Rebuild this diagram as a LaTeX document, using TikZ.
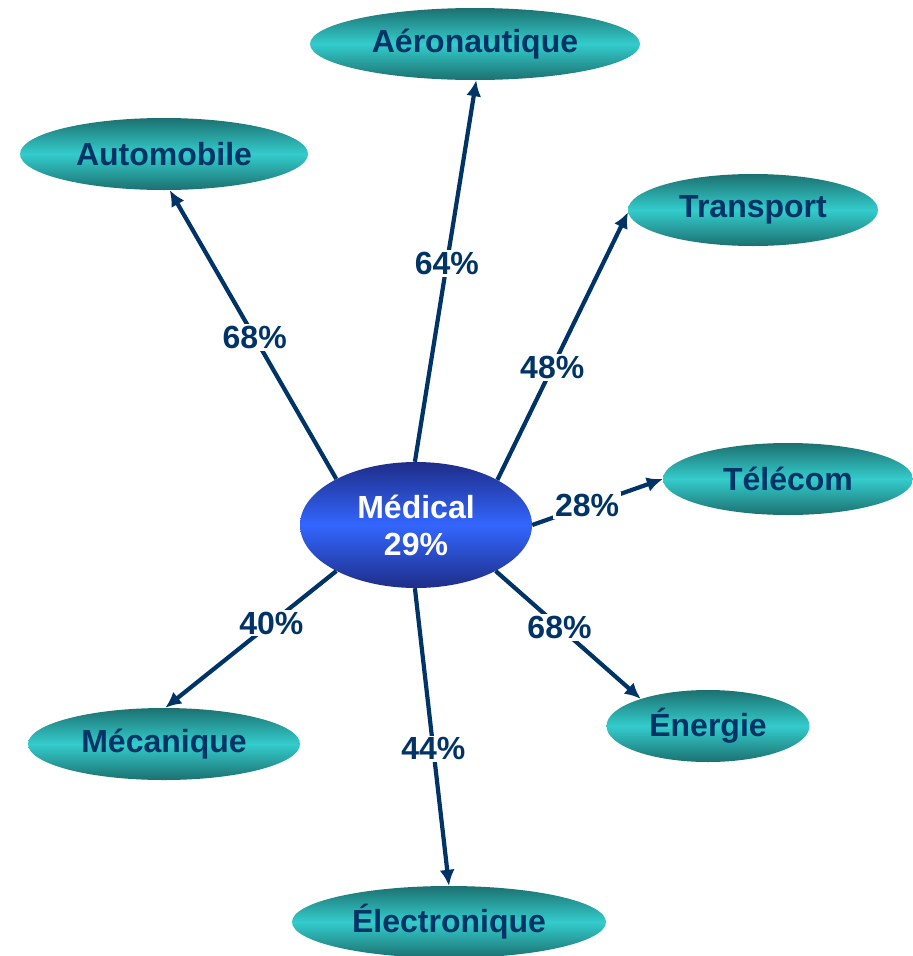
\documentclass[tikz,border=0pt]{standalone}
\usepackage{fontspec}
\setmainfont{Liberation Sans}
\usetikzlibrary{shapes.geometric,arrows.meta}
\definecolor{navy}{RGB}{0,51,102}
\definecolor{tealmid}{RGB}{52,204,204}
\definecolor{tealdark}{RGB}{28,112,112}
\definecolor{bluemid}{RGB}{51,102,255}
\definecolor{bluedark}{RGB}{30,45,135}
\tikzset{
  x=1pt, y=-1pt,
  leaf/.style={ellipse, inner sep=0pt, minimum height=72pt,
    top color=tealdark, bottom color=tealdark, middle color=tealmid,
    text=navy, font=\fontsize{32}{34}\selectfont\bfseries},
  hub/.style={ellipse, inner sep=0pt, minimum width=232pt, minimum height=126pt,
    top color=bluedark, bottom color=bluedark, middle color=bluemid,
    text=white, align=center, font=\fontsize{32}{37}\selectfont\bfseries},
  arr/.style={draw=navy, line width=4.2pt, -{Latex[length=16pt,width=15pt]}},
  lbl/.style={fill=white, inner sep=2pt, text=navy, font=\fontsize{32}{34}\selectfont\bfseries}
}
\begin{document}
\begin{tikzpicture}
\useasboundingbox (0,0) rectangle (913,956);
\node[hub] (med) at (416,525) {Médical\\29\%};
\node[leaf, minimum width=330pt] (aero) at (475,44) {Aéronautique};
\node[leaf, minimum width=288pt] (auto) at (164,154) {Automobile};
\node[leaf, minimum width=250pt] (trans) at (753,210) {Transport};
\node[leaf, minimum width=250pt] (tele) at (788,479) {Télécom};
\node[leaf, minimum width=203pt] (ener) at (708,726) {Énergie};
\node[leaf, minimum width=314pt] (elec) at (449,922) {Électronique};
\node[leaf, minimum width=272pt] (meca) at (164,744) {Mécanique};

\draw[arr] (med.150) -- node[lbl, pos=0.49] (l1) {68\%} (auto.279);
\draw[arr] (med.91) -- node[lbl, pos=0.52] (l2) {64\%} (aero.272);
\draw[arr] (med.29) -- node[lbl, pos=0.42] (l3) {48\%} (trans.181);
\draw[arr] (med.0) -- node[lbl, pos=0.42] (l4) {28\%} (tele.180);
\draw[arr] (med.330) -- node[lbl, pos=0.44] (l5) {68\%} (ener.158);
\draw[arr] (med.269) -- node[lbl, pos=0.54] (l6) {44\%} (elec.90);
\draw[arr] (med.210) -- node[lbl, pos=0.38] (l7) {40\%} (meca.88);
\end{tikzpicture}
\end{document}
